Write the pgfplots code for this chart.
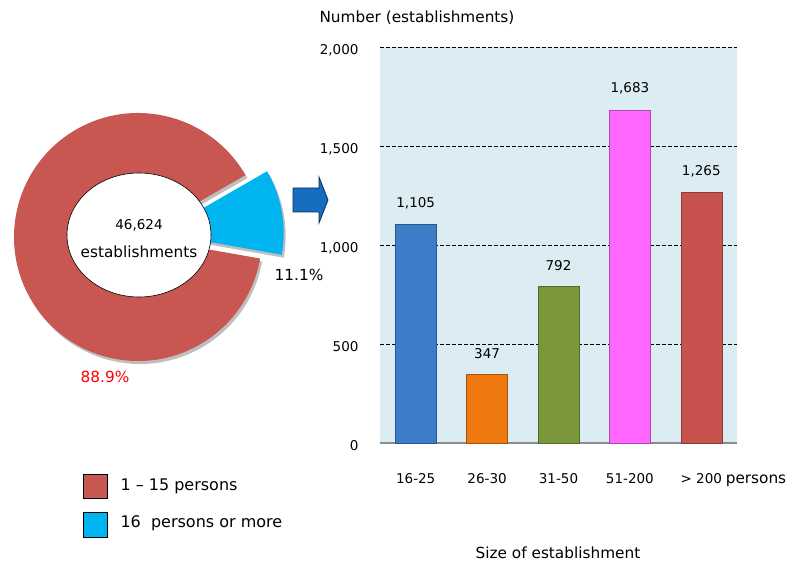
\documentclass[border=0pt]{standalone}
\usepackage{fontspec}
\setmainfont{DejaVu Sans}
\usepackage{pgfplots}
\pgfplotsset{compat=1.18}

\definecolor{bgblue}{RGB}{219,237,243}
\definecolor{barblue}{RGB}{61,125,200}
\definecolor{barorange}{RGB}{240,120,16}
\definecolor{bargreen}{RGB}{122,152,58}
\definecolor{barpink}{RGB}{255,102,255}
\definecolor{barred}{RGB}{200,82,78}
\definecolor{piered}{RGB}{200,86,81}
\definecolor{pieblue}{RGB}{0,180,240}
\definecolor{arrowblue}{RGB}{22,110,192}
\definecolor{axisgray}{RGB}{140,140,140}

\newcommand\lbl{\fontsize{13.5pt}{16pt}\selectfont}
\newcommand\txt{\fontsize{15.3pt}{18pt}\selectfont}
\newcommand\leg{\fontsize{16pt}{19pt}\selectfont}

% shares of the two size groups (per cent)
\def\shareSmall{88.9}
\def\shareLarge{11.1}

\begin{document}
\begin{tikzpicture}[x=1pt,y=1pt]
\path[use as bounding box] (0,0) rectangle (803,563);

% ---- doughnut of the two size groups ----
\pgfmathsetmacro\bstart{-10}
\pgfmathsetmacro\bend{\bstart+3.6*\shareLarge}
\pgfmathsetmacro\rend{\bend+3.6*\shareSmall}
\pgfmathsetmacro\bmid{(\bstart+\bend)/2}
\fill[black!25, xshift=2pt, yshift=-3pt] (138,326) -- ++(\bend:124pt)
  arc[start angle=\bend, end angle=\rend, radius=124pt] -- cycle;
\fill[piered] (138,326) -- ++(\bend:124pt)
  arc[start angle=\bend, end angle=\rend, radius=124pt] -- cycle;
\begin{scope}[shift={(\bmid:22pt)}]
  \fill[black!25, xshift=2pt, yshift=-3pt] (138,326) -- ++(\bstart:124pt)
    arc[start angle=\bstart, end angle=\bend, radius=124pt] -- cycle;
  \fill[pieblue] (138,326) -- ++(\bstart:124pt)
    arc[start angle=\bstart, end angle=\bend, radius=124pt] -- cycle;
\end{scope}
\draw[black, line width=0.6pt, fill=white] (139,328) ellipse[x radius=72pt, y radius=62pt];
\node[font=\lbl] at (139,338) {46,624};
\node[font=\txt] at (139,311) {establishments};
\node[font=\txt] at (299,288) {11.1\%};
\node[font=\txt, text=red] at (105,186) {88.9\%};

% ---- legend ----
\draw[black, line width=0.8pt, fill=piered] (83,65) rectangle (107,89);
\draw[black, line width=0.8pt, fill=pieblue] (83,26) rectangle (107,51);
\node[font=\leg, anchor=west] at (117,77) {1 -- 15 persons};
\node[font=\leg, anchor=west] at (117,40) {16\ \ persons or more};

% ---- arrow ----
\draw[arrowblue!45!black, line width=0.8pt, fill=arrowblue]
  (293,351) -- (293,375) -- (319,375) -- (319,386) -- (328,363)
  -- (319,340) -- (319,351) -- cycle;

% ---- bars by size of establishment ----
\begin{axis}[
  at={(380pt,120pt)}, anchor=south west,
  scale only axis, width=357pt, height=396pt,
  xmin=-0.5, xmax=4.5, ymin=0, ymax=2000,
  ybar, bar width=41pt,
  axis background/.style={fill=bgblue},
  axis x line*=bottom, axis y line*=left,
  x axis line style={draw=axisgray, line width=1.6pt},
  y axis line style={draw=none},
  major tick length=0pt,
  xtick={0,...,4},
  xticklabels={16-25,26-30,31-50,51-200,> 200},
  ytick={0,500,...,2000},
  ymajorgrids,
  grid style={black, line width=0.9pt, dash pattern=on 4pt off 2pt},
  scaled y ticks=false,
  /pgf/number format/assume math mode=true,
  /pgf/number format/1000 sep={,},
  tick label style={font=\lbl},
  xticklabel style={yshift=-27pt},
  yticklabel style={xshift=-18pt, yshift=-3pt},
  nodes near coords,
  nodes near coords style={font=\lbl, text=black, yshift=12pt},
  clip=false,
]
\addplot[bar shift=0pt, fill=barblue, draw=barblue!70!black] coordinates {(0,1105)};
\addplot[bar shift=0pt, fill=barorange, draw=barorange!70!black] coordinates {(1,347)};
\addplot[bar shift=0pt, fill=bargreen, draw=bargreen!70!black] coordinates {(2,792)};
\addplot[bar shift=0pt, fill=barpink, draw=barpink!70!black] coordinates {(3,1683)};
\addplot[bar shift=0pt, fill=barred, draw=barred!70!black] coordinates {(4,1265)};
\end{axis}

\node[font=\txt] at (756,82) {persons};
\node[font=\txt] at (558,10) {Size of establishment};
\node[font=\txt, anchor=west] at (316,545) {Number (establishments)};
\end{tikzpicture}
\end{document}
